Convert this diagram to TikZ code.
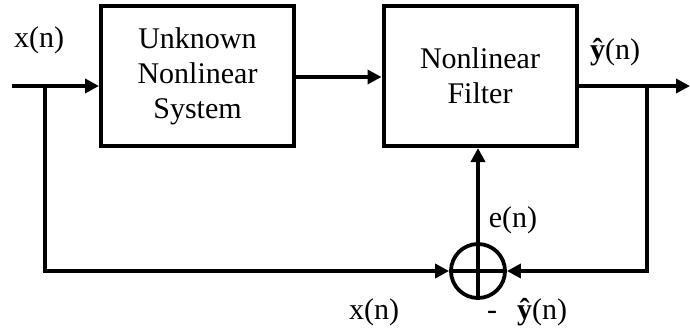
\documentclass[tikz,border=0pt]{standalone}
\usepackage{fontspec}
\setmainfont{Liberation Serif}
\usetikzlibrary{arrows.meta}
\begin{document}
\begin{tikzpicture}[x=1pt,y=-1pt,
  line width=3.8pt,
  blk/.style={draw, rectangle, line width=4pt, minimum width=193pt, minimum height=140pt, align=center, inner sep=0pt, font=\fontsize{30}{35}\selectfont},
  lbl/.style={inner sep=0pt, font=\fontsize{30}{35}\selectfont},
  arr/.style={-{Triangle[length=14pt,width=14pt]}},
  sumc/.style={draw, circle, minimum size=54pt, inner sep=0pt, line width=3.8pt}
]
\useasboundingbox (0,0) rectangle (690,333);
\node[blk] (sys) at (197.5,76) {Unknown\\Nonlinear\\System};
\node[blk] (flt) at (480,76) {Nonlinear\\Filter};
\node[sumc] (sum) at (478,271) {};
\coordinate (in) at (12,86);
\coordinate (out) at (690,86);
\coordinate (bl) at (45,86);
\coordinate (br) at (647,86);
\coordinate (blc) at (45,271);
\coordinate (brc) at (647,271);
% input
\draw[arr] (in) -- (sys.west |- in);
% middle
\draw[arr] (sys.east |- 0,77) -- (flt.west |- 0,77);
% output
\draw[arr] (flt.east |- out) -- (out);
% feedback paths
\draw[arr] (bl) -- (blc) -- (sum.west);
\draw[arr] (br) -- (brc) -- (sum.east);
% cross in circle
\draw (sum.south) -- (sum.north);
\draw (sum.west) -- (sum.east);
% error
\draw[arr] (sum.north) -- (sum.north |- flt.south);
% labels
\node[lbl] (lx) at (39,40) {x(n)};
\node[lbl] (ly) at (615,52) {{\bfseries ŷ}(n)};
\node[lbl] (le) at (513,220) {e(n)};
\node[lbl] (lx2) at (374,312) {x(n)};
\node[lbl] (lm) at (492,315) {-};
\node[lbl] (ly2) at (542,312) {{\bfseries ŷ}(n)};
\end{tikzpicture}
\end{document}
